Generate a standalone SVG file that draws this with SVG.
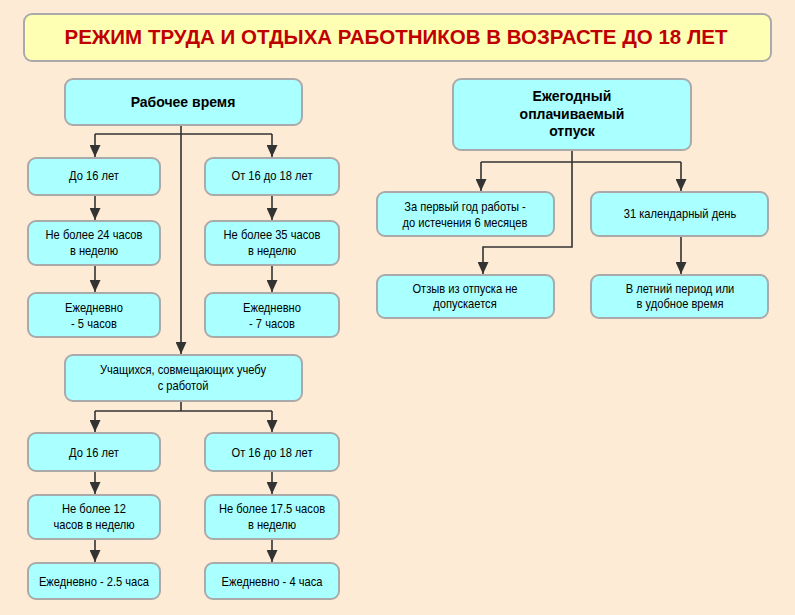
<svg xmlns="http://www.w3.org/2000/svg" width="795" height="615" viewBox="0 0 795 615">
<defs>
<style>
.bg{fill:#FEEBD5}
.title{fill:#FFFFB4;stroke:#AAAAAA;stroke-width:2}
.box{fill:#AAFFFF;stroke:#AAAAAA;stroke-width:2}
.tt{font-family:"Liberation Sans",Arial,sans-serif;font-weight:bold;font-size:20.5px;fill:#C00000;text-anchor:middle}
.b{font-family:"Liberation Sans",Arial,sans-serif;font-weight:bold;font-size:14px;fill:#000;text-anchor:middle}
.t{font-family:"Liberation Sans",Arial,sans-serif;font-size:12.6px;fill:#000;text-anchor:middle}
.c{fill:none;stroke:#333333;stroke-width:1.6}
</style>
<marker id="ah" viewBox="0 0 12 11" refX="12" refY="5.5" markerWidth="12" markerHeight="11" markerUnits="userSpaceOnUse" orient="auto">
<path d="M0,0 L12,5.5 L0,11 Z" fill="#333333"/>
</marker>
</defs>
<rect class="bg" x="0" y="0" width="795" height="615"/>
<g id="title">
<rect class="title" x="24" y="14" width="747" height="47" rx="8"/>
<text class="tt" x="396" y="44">РЕЖИМ ТРУДА И ОТДЫХА РАБОТНИКОВ В ВОЗРАСТЕ ДО 18 ЛЕТ</text>
</g>
<g id="connectors">
<path class="c" d="M181,125 V354" marker-end="url(#ah)"/>
<path class="c" d="M95,134 H272"/>
<path class="c" d="M95,134 V157" marker-end="url(#ah)"/>
<path class="c" d="M272,134 V157" marker-end="url(#ah)"/>
<path class="c" d="M95,195 V220" marker-end="url(#ah)"/>
<path class="c" d="M272,195 V220" marker-end="url(#ah)"/>
<path class="c" d="M95,265 V292" marker-end="url(#ah)"/>
<path class="c" d="M272,265 V292" marker-end="url(#ah)"/>
<path class="c" d="M181,401 V411 M95,411 H272"/>
<path class="c" d="M95,411 V432" marker-end="url(#ah)"/>
<path class="c" d="M272,411 V432" marker-end="url(#ah)"/>
<path class="c" d="M95,471 V494" marker-end="url(#ah)"/>
<path class="c" d="M272,471 V494" marker-end="url(#ah)"/>
<path class="c" d="M95,539 V562" marker-end="url(#ah)"/>
<path class="c" d="M272,539 V562" marker-end="url(#ah)"/>
<path class="c" d="M481,162 H681"/>
<path class="c" d="M481,162 V191" marker-end="url(#ah)"/>
<path class="c" d="M681,162 V191" marker-end="url(#ah)"/>
<path class="c" d="M572,150 V247 H483 V274" marker-end="url(#ah)"/>
<path class="c" d="M681,236 V274" marker-end="url(#ah)"/>
</g>
<g id="work-time">
<rect class="box" x="65" y="79" width="237" height="46" rx="8"/>
<text class="b" x="183" y="107">Рабочее время</text>
</g>
<g id="under16">
<rect class="box" x="28" y="158" width="132" height="37" rx="8"/>
<text class="t" transform="matrix(0.885 0 0 1 94 0)" x="0" y="180">До 16 лет</text>
</g>
<g id="16to18">
<rect class="box" x="205" y="158" width="134" height="37" rx="8"/>
<text class="t" transform="matrix(0.885 0 0 1 272 0)" x="0" y="180">От 16 до 18 лет</text>
</g>
<g id="max24">
<rect class="box" x="28" y="221" width="132" height="44" rx="8"/>
<text class="t" transform="matrix(0.885 0 0 1 94 0)" x="0" y="239">Не более 24 часов</text>
<text class="t" transform="matrix(0.885 0 0 1 94 0)" x="0" y="255">в неделю</text>
</g>
<g id="max35">
<rect class="box" x="205" y="221" width="134" height="44" rx="8"/>
<text class="t" transform="matrix(0.885 0 0 1 272 0)" x="0" y="239">Не более 35 часов</text>
<text class="t" transform="matrix(0.885 0 0 1 272 0)" x="0" y="255">в неделю</text>
</g>
<g id="daily5">
<rect class="box" x="28" y="293" width="132" height="44" rx="8"/>
<text class="t" transform="matrix(0.885 0 0 1 94 0)" x="0" y="312">Ежедневно</text>
<text class="t" transform="matrix(0.885 0 0 1 94 0)" x="0" y="328">- 5 часов</text>
</g>
<g id="daily7">
<rect class="box" x="205" y="293" width="134" height="44" rx="8"/>
<text class="t" transform="matrix(0.885 0 0 1 272 0)" x="0" y="312">Ежедневно</text>
<text class="t" transform="matrix(0.885 0 0 1 272 0)" x="0" y="328">- 7 часов</text>
</g>
<g id="students">
<rect class="box" x="65" y="355" width="237" height="46" rx="8"/>
<text class="t" transform="matrix(0.885 0 0 1 183 0)" x="0" y="374">Учащихся, совмещающих учебу</text>
<text class="t" transform="matrix(0.885 0 0 1 183 0)" x="0" y="390">с работой</text>
</g>
<g id="s-under16">
<rect class="box" x="28" y="433" width="132" height="38" rx="8"/>
<text class="t" transform="matrix(0.885 0 0 1 94 0)" x="0" y="457">До 16 лет</text>
</g>
<g id="s-16to18">
<rect class="box" x="205" y="433" width="134" height="38" rx="8"/>
<text class="t" transform="matrix(0.885 0 0 1 272 0)" x="0" y="457">От 16 до 18 лет</text>
</g>
<g id="max12">
<rect class="box" x="28" y="495" width="132" height="44" rx="8"/>
<text class="t" transform="matrix(0.885 0 0 1 94 0)" x="0" y="513">Не более 12</text>
<text class="t" transform="matrix(0.885 0 0 1 94 0)" x="0" y="529">часов в неделю</text>
</g>
<g id="max17">
<rect class="box" x="205" y="495" width="134" height="44" rx="8"/>
<text class="t" transform="matrix(0.885 0 0 1 272 0)" x="0" y="513">Не более 17.5 часов</text>
<text class="t" transform="matrix(0.885 0 0 1 272 0)" x="0" y="529">в неделю</text>
</g>
<g id="daily25">
<rect class="box" x="28" y="563" width="132" height="36" rx="8"/>
<text class="t" transform="matrix(0.885 0 0 1 94 0)" x="0" y="586">Ежедневно - 2.5 часа</text>
</g>
<g id="daily4">
<rect class="box" x="205" y="563" width="134" height="36" rx="8"/>
<text class="t" transform="matrix(0.885 0 0 1 272 0)" x="0" y="586">Ежедневно - 4 часа</text>
</g>
<g id="vacation">
<rect class="box" x="453" y="79" width="238" height="71" rx="8"/>
<text class="b" x="572" y="101">Ежегодный</text>
<text class="b" x="572" y="118.5">оплачиваемый</text>
<text class="b" x="572" y="136">отпуск</text>
</g>
<g id="first-year">
<rect class="box" x="377" y="192" width="177" height="44" rx="8"/>
<text class="t" transform="matrix(0.885 0 0 1 465 0)" x="0" y="211">За первый год работы -</text>
<text class="t" transform="matrix(0.885 0 0 1 465 0)" x="0" y="227">до истечения 6 месяцев</text>
</g>
<g id="days31">
<rect class="box" x="591" y="192" width="177" height="44" rx="8"/>
<text class="t" transform="matrix(0.885 0 0 1 680 0)" x="0" y="218">31 календарный день</text>
</g>
<g id="recall">
<rect class="box" x="377" y="275" width="177" height="43" rx="8"/>
<text class="t" transform="matrix(0.885 0 0 1 465 0)" x="0" y="293">Отзыв из отпуска не</text>
<text class="t" transform="matrix(0.885 0 0 1 465 0)" x="0" y="308">допускается</text>
</g>
<g id="summer">
<rect class="box" x="591" y="275" width="177" height="43" rx="8"/>
<text class="t" transform="matrix(0.885 0 0 1 680 0)" x="0" y="293">В летний период или</text>
<text class="t" transform="matrix(0.885 0 0 1 680 0)" x="0" y="308">в удобное время</text>
</g>
</svg>
